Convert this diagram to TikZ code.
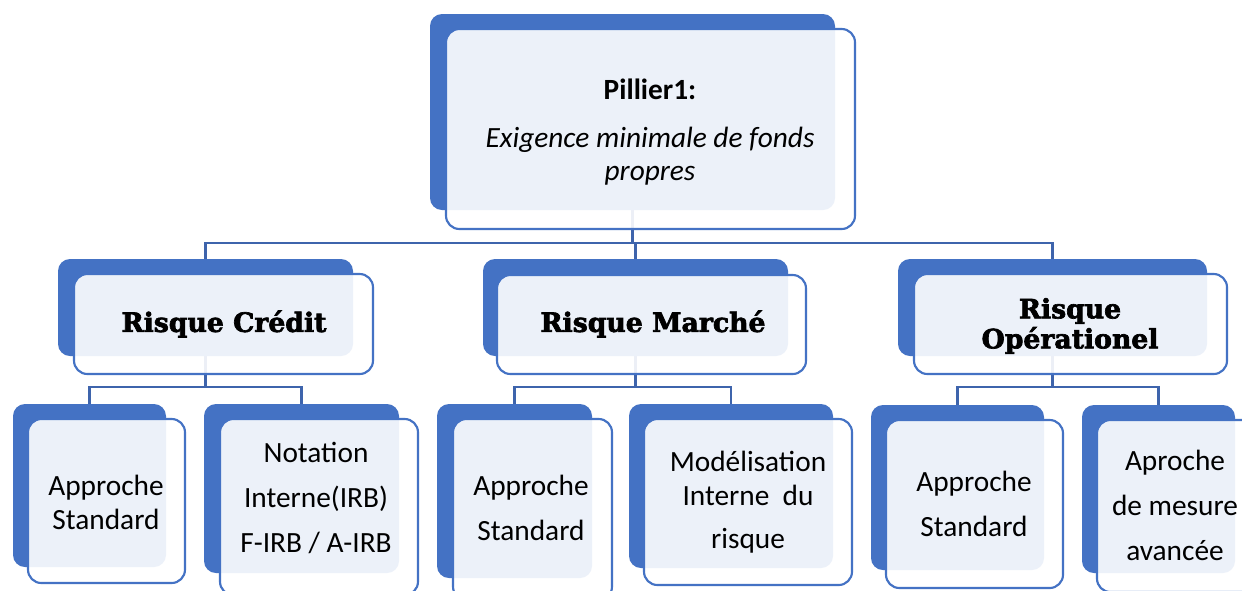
\documentclass[tikz,border=0pt]{standalone}
\usepackage{fontspec}
\setmainfont{Carlito}
\newfontfamily\hdrfont{DejaVu Serif}[BoldFeatures={FakeBold=2.5}]
\usetikzlibrary{fit,backgrounds}
\definecolor{bblue}{HTML}{4472C4}
\definecolor{cblue}{HTML}{3E64AC}
\tikzset{
  backbox/.style={fill=bblue, draw=none, rounded corners=9pt, inner sep=0pt},
  frontbox/.style={fill=white, fill opacity=0.9, draw=bblue, line width=1.6pt, rounded corners=10pt, inner sep=0pt},
  conn/.style={draw=cblue, line width=1.7pt},
  txt/.style={align=center, text=black, inner sep=0pt, font=\fontsize{22}{25.5}\selectfont},
  hdr/.style={align=center, text=black, inner sep=0pt, font=\hdrfont\bfseries\fontsize{20}{22.5}\selectfont},
}
\begin{document}
\begin{tikzpicture}[x=0.75pt,y=-0.75pt]
\useasboundingbox (0,0) rectangle (1242,590);
\clip (0,0) rectangle (1242,590);
% top box
\node[backbox, fit={(430,14)(835,210)}] (topb) {};
\node[frontbox, fit={(446,29)(855,229)}] (topf) {};
\node[txt, font=\fontsize{22}{24.75}\selectfont] (topt) at (650,132) {\textbf{Pillier1:}\\[11.25pt]\textit{Exigence minimale de fonds}\\\textit{propres}};
% middle boxes
\node[backbox, fit={(58,259)(353,356)}] (m1b) {};
\node[frontbox, fit={(74,274)(373,374)}] (m1f) {};
\node[hdr] (m1t) at (224,324) {Risque Crédit};
\node[backbox, fit={(483,259)(788,356)}] (m2b) {};
\node[frontbox, fit={(497,275)(806,374)}] (m2f) {};
\node[hdr] (m2t) at (653,324) {Risque Marché};
\node[backbox, fit={(898,259)(1207,356)}] (m3b) {};
\node[frontbox, fit={(914,274)(1227,374)}] (m3f) {};
\node[hdr] (m3t) at (1070,326) {Risque\\Opérationel};
% bottom boxes
\node[backbox, fit={(13,404)(166,567)}] (c1b) {};
\node[frontbox, fit={(28,419)(185,583)}] (c1f) {};
\node[txt] (c1t) at (106,502) {Approche\\Standard};
\node[backbox, fit={(204,404)(399,573)}] (c2b) {};
\node[frontbox, fit={(220,419)(418,595)}] (c2f) {};
\node[txt] (c2t) at (316,498) {Notation\\[8.25pt]Interne(IRB)\\[8.25pt]F-IRB / A-IRB};
\node[backbox, fit={(437,404)(592,578)}] (c3b) {};
\node[frontbox, fit={(453,419)(612,600)}] (c3f) {};
\node[txt] (c3t) at (531,508) {Approche\\[8.25pt]Standard};
\node[backbox, fit={(629,404)(833,568)}] (c4b) {};
\node[frontbox, fit={(644,419)(852,585)}] (c4f) {};
\node[txt] (c4t) at (748,502) {Modélisation\\Interne\ \ du\\[7pt]risque};
\node[backbox, fit={(871,405)(1044,570)}] (c5b) {};
\node[frontbox, fit={(886,420)(1063,588)}] (c5f) {};
\node[txt] (c5t) at (974,504) {Approche\\[8.25pt]Standard};
\node[backbox, fit={(1082,405)(1235,573)}] (c6b) {};
\node[frontbox, fit={(1097,420)(1258,592)}] (c6f) {};
\node[txt] (c6t) at (1175,505) {Aproche\\[8.25pt]de mesure\\[8.25pt]avancée};
% connectors
\begin{scope}[on background layer]
\fill[white] (0,0) rectangle (1242,590);
\path (topb.south) ++(0,33) coordinate (j0);
\draw[conn] (topb.south) -- (j0);
\draw[conn] (m1b.north) |- (j0) -| (m3b.north);
\draw[conn] (j0 -| m2b.north) -- (m2b.north);
\path (m1b.south) ++(0,31) coordinate (j1);
\draw[conn] (m1b.south) -- (j1);
\draw[conn] (c1b.north) |- (j1) -| (c2b.north);
\path (m2b.south) ++(0,31) coordinate (j2);
\draw[conn] (m2b.south) -- (j2);
\draw[conn] (c3b.north) |- (j2) -| (c4b.north);
\path (m3b.south) ++(0,31) coordinate (j3);
\draw[conn] (m3b.south) -- (j3);
\draw[conn] (c5b.north) |- (j3) -| (c6b.north);
\end{scope}
\end{tikzpicture}
\end{document}
